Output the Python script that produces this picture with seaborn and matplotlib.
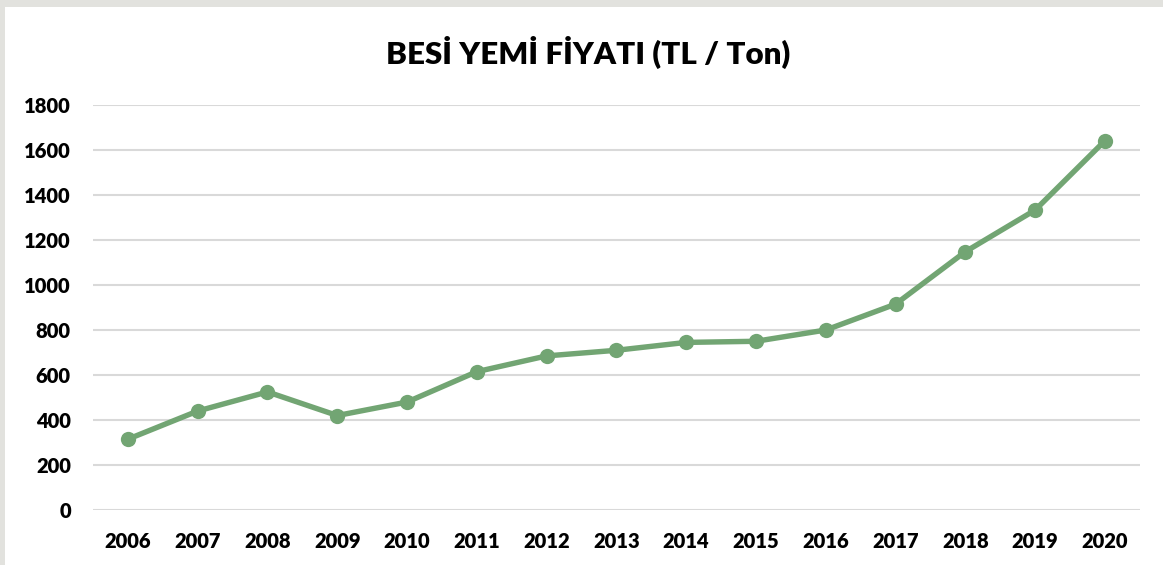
import matplotlib
matplotlib.use("Agg")
import matplotlib.pyplot as plt
from matplotlib.patches import Rectangle
import seaborn as sns
import pandas as pd

years = ["2006", "2007", "2008", "2009", "2010", "2011", "2012", "2013",
         "2014", "2015", "2016", "2017", "2018", "2019", "2020"]
prices = [315, 440, 525, 420, 480, 615, 685, 710, 745, 750, 800, 915, 1148, 1333, 1641]
y_ticks = [0, 200, 400, 600, 800, 1000, 1200, 1400, 1600, 1800]

df = pd.DataFrame({"Yıl": years, "Fiyat": prices})
df["pos"] = range(len(years))

sns.set_theme(style="white")
plt.rcParams["font.family"] = ["Lato", "DejaVu Sans"]

fig = plt.figure(figsize=(11.63, 5.65), dpi=100, facecolor="#e2e2de")
# white chart area inside the grey frame
fig.patches.append(Rectangle((5 / 1163, 0), 1 - 5 / 1163, 1 - 7 / 565,
                             transform=fig.transFigure, facecolor="white",
                             edgecolor="none", zorder=-10))

ax = fig.add_axes([0.080, 0.0973, 0.900, 0.7168])
ax.set_facecolor("white")

sns.lineplot(data=df, x="pos", y="Fiyat", ax=ax, color="#72A573",
             linewidth=3.9, marker="o", markersize=11,
             markeredgewidth=0, zorder=3)

ax.set_xlim(-0.5, len(years) - 0.5)
ax.set_ylim(0, 1800)
ax.set_xticks(df["pos"])
ax.set_xticklabels(years)
ax.set_yticks(y_ticks)
ax.set_yticklabels([str(v) for v in y_ticks])
ax.set_xlabel("")
ax.set_ylabel("")

ax.grid(axis="y", color="#d9d9d9", linewidth=1.5, zorder=0)
ax.grid(axis="x", visible=False)
for s in ax.spines.values():
    s.set_visible(False)

ax.tick_params(axis="both", length=0, labelsize=14.5, colors="black")
ax.tick_params(axis="x", pad=16)
ax.tick_params(axis="y", pad=16)
for lbl in ax.get_xticklabels() + ax.get_yticklabels():
    lbl.set_fontweight("heavy")

fig.text(0.506, 1 - 52 / 565, "BESİ YEMİ FİYATI (TL / Ton)", ha="center",
         va="center", fontsize=22.5, fontweight="heavy", color="black")

fig.savefig("out.png", dpi=100, facecolor=fig.get_facecolor())
